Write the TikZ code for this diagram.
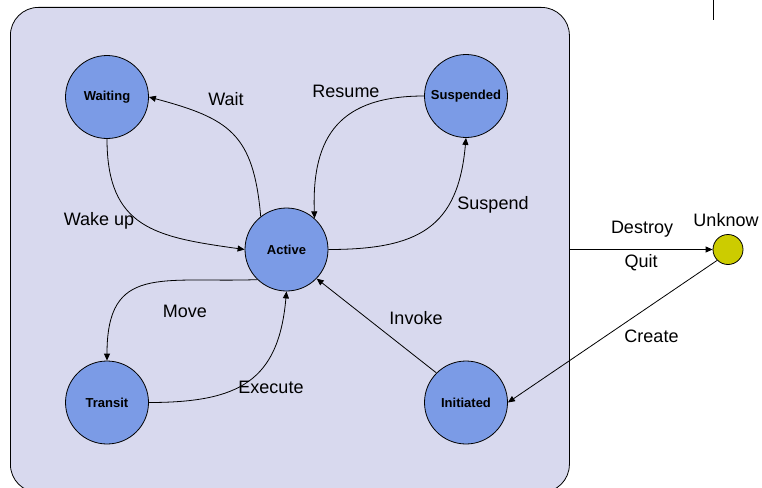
\documentclass[tikz,border=0pt]{standalone}
\usepackage{fontspec}
\setmainfont{Liberation Sans}
\usetikzlibrary{arrows.meta}
\definecolor{panel}{RGB}{216,217,238}
\definecolor{statefill}{RGB}{123,155,230}
\definecolor{endfill}{RGB}{204,204,0}
\begin{document}
\begin{tikzpicture}[x=1pt,y=1pt,
  state/.style={circle,draw=black,line width=0.8pt,fill=statefill,minimum size=83pt,
    inner sep=0pt,font=\fontsize{13}{15}\selectfont\bfseries},
  endstate/.style={circle,draw=black,line width=0.8pt,fill=endfill,minimum size=30pt,inner sep=0pt},
  trans/.style={line width=0.8pt,-{Triangle[length=7pt,width=6pt]}},
  lbl/.style={anchor=base,font=\fontsize{18}{21}\selectfont,inner sep=0pt}]
\useasboundingbox (0,0) rectangle (762,-487);

% system boundary
\node[draw=black, line width=0.8pt, fill=panel, rounded corners=28pt,
      minimum width=559pt, minimum height=485pt, anchor=north west, inner sep=0pt]
      (system) at (10,-7) {};
\draw[line width=0.8pt] (713,0) -- (713,-20);

% states
\node[state] (waiting)   at (107,-97)    {Waiting};
\node[state] (suspended) at (466,-96)    {Suspended};
\node[state] (active)    at (286.5,-249.5) {Active};
\node[state] (transit)   at (107,-402.5) {Transit};
\node[state] (initiated) at (466,-402.5) {Initiated};
\node[endstate] (unknow) at (728,-249.5) {};

% transitions
\draw[trans] (active.128) to[out=95,in=-15,looseness=1.3] (waiting.east);
\draw[trans] (waiting.south) to[out=-90,in=172,looseness=1.3] (active.west);
\draw[trans] (suspended.west) to[out=180,in=92,looseness=1.3] (active.48);
\draw[trans] (active.east) to[out=0,in=-95,looseness=1.3] (suspended.south);
\draw[trans] (active.226) to[out=182,in=90,looseness=1.45] (transit.north);
\draw[trans] (transit.east) to[out=0,in=-95,looseness=1.3] (active.south);
\draw[trans] (initiated.135) -- (active.-44);
\draw[trans] (system.east |- unknow.west) -- (unknow.west);
\draw[trans] (unknow.225) -- (initiated.east);

% labels
\node[lbl] (lwait)    at (226,-105) {Wait};
\node[lbl] (lresume)  at (346,-97.5) {Resume};
\node[lbl] (lwake)    at (99,-225)  {Wake up};
\node[lbl] (lsuspend) at (493,-209) {Suspend};
\node[lbl] (lmove)    at (185,-317) {Move};
\node[lbl] (lexecute) at (271,-393) {Execute};
\node[lbl] (linvoke)  at (416,-324) {Invoke};
\node[lbl] (ldestroy) at (642,-233) {Destroy};
\node[lbl] (lquit)    at (641,-267) {Quit};
\node[lbl] (lcreate)  at (651.5,-342) {Create};
\node[lbl] (lunknow)  at (726,-226) {Unknow};
\end{tikzpicture}
\end{document}
